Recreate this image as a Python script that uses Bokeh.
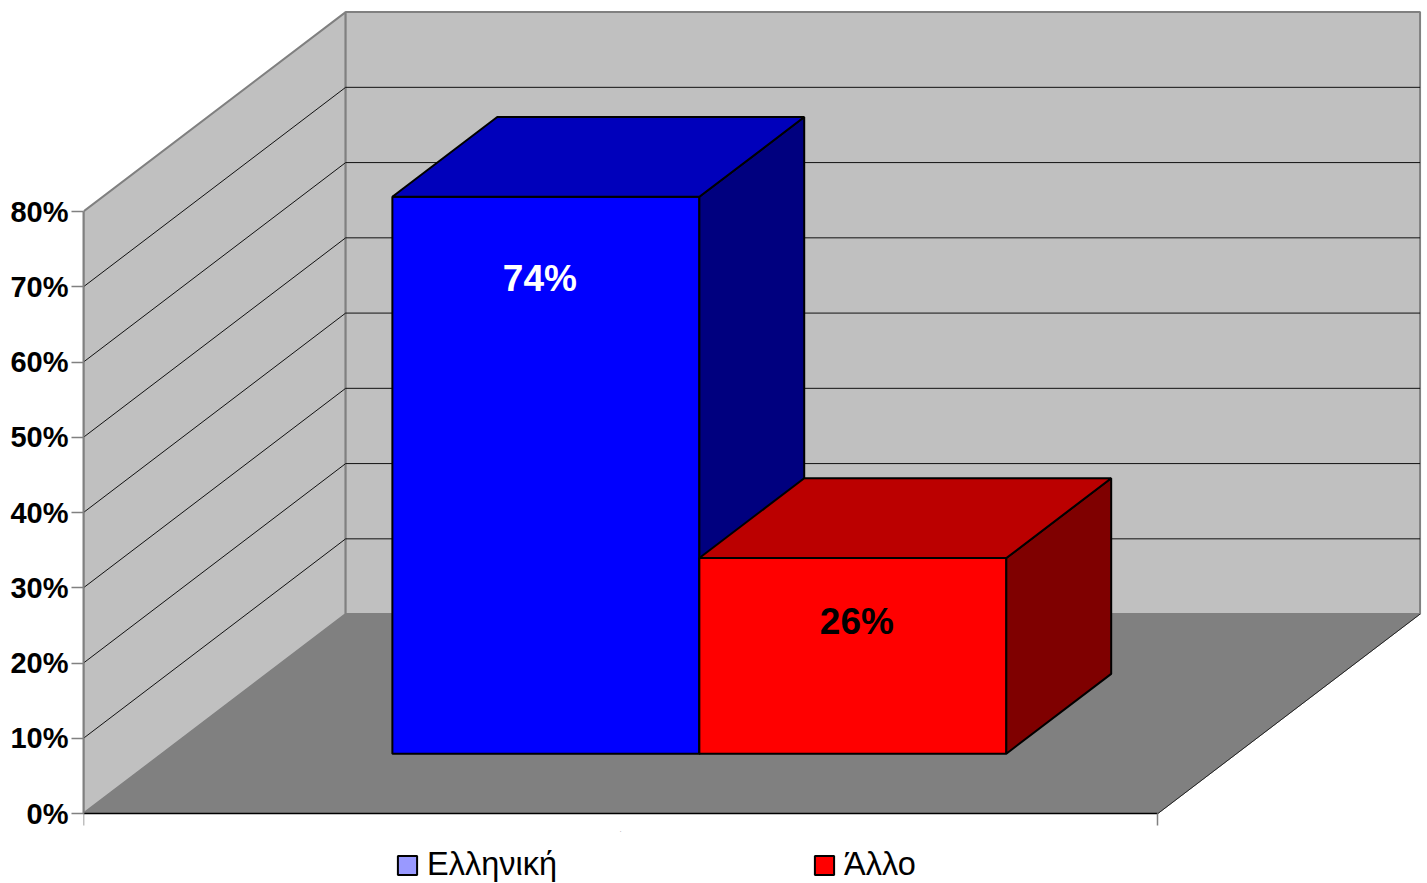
from bokeh.plotting import figure
from bokeh.embed import file_html
from bokeh.resources import INLINE
from bokeh.models import Range1d, FixedTicker, Legend, LegendItem, Label
from bokeh.core.properties import value

# ---- data ----
categories = ["Ελληνική", "Άλλο"]
percentages = [74, 26]
data_labels = ["74%", "26%"]
tick_values = [0, 10, 20, 30, 40, 50, 60, 70, 80]
tick_labels = ["0%", "10%", "20%", "30%", "40%", "50%", "60%", "70%", "80%"]

# ---- styles ----
front_colors = ["#0000ff", "#ff0000"]
top_colors = ["#0000bb", "#bb0000"]
side_colors = ["#00007f", "#7f0000"]
legend_colors = ["#9999ff", "#ff0000"]
label_colors = ["#ffffff", "#000000"]
FONT = "Liberation Sans"

# ---- fake-3D geometry, in axis units ----
X_SPAN = 3.5          # width of the category axis
Y_MAX = 80
DX = 0.854            # x shift of the full chart depth
DY = 26.5             # value shift of the full chart depth
BAR_START = 0.75      # gap before the first bar
D_FRONT, D_BACK = 0.30, 0.70


def px(u, d):
    return u + d * DX


def py(v, d):
    return v + d * DY


p = figure(
    width=1427, height=883, output_backend="svg", toolbar_location=None,
    x_range=Range1d(0, (1427 - 83.5) / 306.86), y_range=Range1d(-(883 - 813) / 7.525, 813 / 7.525),
    min_border_left=83, min_border_right=0, min_border_top=0, min_border_bottom=0,
    background_fill_color=None, border_fill_color="#ffffff",
)
p.outline_line_color = None
p.grid.visible = False

# walls and floor
GREY = "#808080"
p.patch([px(0, 0), px(0, 1), px(0, 1), px(0, 0)],
        [py(0, 0), py(0, 1), py(Y_MAX, 1), py(Y_MAX, 0)],
        fill_color="#c0c0c0", line_color=GREY, line_width=2)
p.patch([px(0, 1), px(X_SPAN, 1), px(X_SPAN, 1), px(0, 1)],
        [py(0, 1), py(0, 1), py(Y_MAX, 1), py(Y_MAX, 1)],
        fill_color="#c0c0c0", line_color=GREY, line_width=2)
p.patch([px(0, 0), px(X_SPAN, 0), px(X_SPAN, 1), px(0, 1)],
        [py(0, 0), py(0, 0), py(0, 1), py(0, 1)],
        fill_color=GREY, line_color=GREY, line_width=1)
p.line([px(X_SPAN, 0), px(X_SPAN, 1)], [py(0, 0), py(0, 1)], line_color="#222222", line_width=1)

# gridlines along both walls
grid_vals = [t for t in tick_values if 0 < t < Y_MAX]
p.multi_line(
    [[px(0, 0), px(0, 1), px(X_SPAN, 1)] for _ in grid_vals],
    [[py(t, 0), py(t, 1), py(t, 1)] for t in grid_vals],
    line_color="#111111", line_width=1,
)

# bars
for i, v in enumerate(percentages):
    u0, u1 = BAR_START + i, BAR_START + i + 1
    p.patch([px(u0, D_FRONT), px(u1, D_FRONT), px(u1, D_FRONT), px(u0, D_FRONT)],
            [py(0, D_FRONT), py(0, D_FRONT), py(v, D_FRONT), py(v, D_FRONT)],
            fill_color=front_colors[i], line_color="#000000", line_width=2)
    p.patch([px(u1, D_FRONT), px(u1, D_BACK), px(u1, D_BACK), px(u1, D_FRONT)],
            [py(0, D_FRONT), py(0, D_BACK), py(v, D_BACK), py(v, D_FRONT)],
            fill_color=side_colors[i], line_color="#000000", line_width=2)
    p.patch([px(u0, D_FRONT), px(u1, D_FRONT), px(u1, D_BACK), px(u0, D_BACK)],
            [py(v, D_FRONT), py(v, D_FRONT), py(v, D_BACK), py(v, D_BACK)],
            fill_color=top_colors[i], line_color="#000000", line_width=2)

# data labels
label_x_off = [-6, 4]
label_y_off = [82, 63]
for i, v in enumerate(percentages):
    p.add_layout(Label(
        x=px(BAR_START + i + 0.5, D_FRONT), y=py(v, D_FRONT),
        x_offset=label_x_off[i], y_offset=-label_y_off[i],
        text=data_labels[i], text_align="center", text_baseline="middle",
        text_font=FONT, text_font_style="bold", text_font_size="37px",
        text_color=label_colors[i],
    ))

# axes
ya = p.yaxis[0]
ya.ticker = FixedTicker(ticks=tick_values)
ya.major_label_overrides = {t: s for t, s in zip(tick_values, tick_labels)}
ya.bounds = (0, Y_MAX)
ya.axis_line_color = GREY
ya.axis_line_width = 2
ya.major_tick_line_color = GREY
ya.major_tick_line_width = 1.5
ya.major_tick_out = 12
ya.major_tick_in = 0
ya.minor_tick_line_color = None
ya.major_label_standoff = 3
ya.major_label_text_font = FONT
ya.major_label_text_font_style = "bold"
ya.major_label_text_font_size = "29px"
ya.major_label_text_color = "#000000"

xa = p.xaxis[0]
xa.fixed_location = 0
xa.ticker = FixedTicker(ticks=[0, X_SPAN])
xa.major_label_overrides = {0: " ", X_SPAN: " "}
xa.major_label_text_font_size = "1px"
xa.major_label_standoff = 0
xa.bounds = (0, X_SPAN)
xa.axis_line_color = "#000000"
xa.axis_line_width = 1.5
xa.major_tick_line_color = GREY
xa.major_tick_line_width = 1.5
xa.major_tick_out = 12
xa.major_tick_in = 0
xa.minor_tick_line_color = None

# the faint category mark below the axis
p.add_layout(Label(x=X_SPAN / 2, y=0, y_offset=-18, text=".", text_align="center",
                   text_font=FONT, text_font_size="8px", text_color="#aaaaaa"))

# legend
items = []
for name, col in zip(categories, legend_colors):
    r = p.quad(left=[float("nan")], right=[float("nan")], top=[float("nan")], bottom=[float("nan")],
               fill_color=col, line_color="#000000", line_width=2)
    items.append(LegendItem(label=value(name), renderers=[r]))
legend = Legend(items=items, orientation="horizontal", location=(312, 0),
                glyph_width=24, glyph_height=24, label_standoff=8, spacing=255,
                padding=0, margin=0, border_line_color=None, background_fill_alpha=0,
                label_text_font=FONT, label_text_font_size="32.5px", label_text_color="#000000")
p.add_layout(legend, "center")

open("out.html", "w").write(file_html(p, INLINE))
